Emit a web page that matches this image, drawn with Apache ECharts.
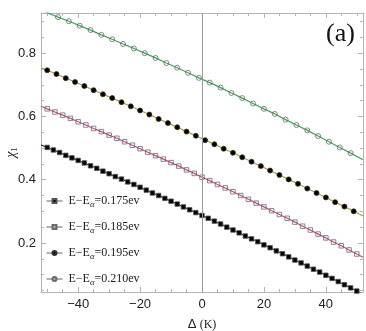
<!DOCTYPE html>
<html>
<head>
<meta charset="utf-8">
<script src="https://cdn.jsdelivr.net/npm/echarts@6/dist/echarts.min.js"></script>
<style>
  html, body { margin: 0; padding: 0; background: #fff; }
  #main { width: 366px; height: 331px; }
</style>
</head>
<body>
<div id="main"></div>
<script>
// sample positions (Delta, K) and chi_1 values
var x175 = [-50,-48,-46,-44,-42,-40,-38,-36,-34,-32,-30,-28,-26,-24,-22,-20,-18,-16,-14,-12,-10,-8,-6,-4,-2,
  0,2,4,6,8,10,12,14,16,18,20,22,24,26,28,30,32,34,36,38,40,42,44,46,48,50];
var chi175 = [0.502,0.494,0.486,0.477,0.469,0.461,0.453,0.444,0.436,0.427,0.419,0.410,0.402,0.393,0.385,0.376,0.367,0.358,0.350,0.341,0.332,0.323,0.314,0.305,0.296,
  0.287,0.278,0.269,0.260,0.250,0.241,0.232,0.222,0.213,0.204,0.194,0.185,0.175,0.166,0.156,0.146,0.137,0.127,0.117,0.108,0.098,0.088,0.078,0.068,0.058,0.048];

var x185 = [-50,-47.5,-45,-42.5,-40,-37.5,-35,-32.5,-30,-27.5,-25,-22.5,-20,-17.5,-15,-12.5,-10,-7.5,-5,-2.5,
  0,2.5,5,7.5,10,12.5,15,17.5,20,22.5,25,27.5,30,32.5,35,37.5,40,42.5,45,47.5,50];
var chi185 = [0.624,0.614,0.604,0.594,0.583,0.573,0.562,0.552,0.541,0.531,0.520,0.509,0.498,0.487,0.476,0.465,0.454,0.443,0.431,0.420,
  0.408,0.397,0.385,0.374,0.362,0.350,0.338,0.326,0.314,0.302,0.290,0.278,0.266,0.253,0.241,0.228,0.216,0.203,0.191,0.178,0.165];

var x195 = [-50,-47,-44,-41,-38,-35,-32,-29,-26,-23,-20,-17,-14,-11,-8,-5,-2,
  1,4,7,10,13,16,19,22,25,28,31,34,37,40,43,46,49];
var chi195 = [0.746,0.734,0.721,0.709,0.696,0.683,0.670,0.658,0.645,0.632,0.619,0.606,0.592,0.579,0.566,0.552,0.539,
  0.525,0.512,0.498,0.485,0.471,0.457,0.443,0.429,0.415,0.401,0.387,0.372,0.358,0.344,0.329,0.315,0.300];

var x210 = [-50,-46.5,-43,-39.5,-36,-32.5,-29,-25.5,-22,-18.5,-15,-11.5,-8,-4.5,-1,
  2.5,6,9.5,13,16.5,20,23.5,27,30.5,34,37.5,41,44.5,48];
var chi210 = [0.928,0.914,0.901,0.887,0.873,0.858,0.844,0.829,0.815,0.800,0.785,0.769,0.754,0.738,0.722,
  0.707,0.691,0.674,0.658,0.641,0.624,0.608,0.590,0.573,0.556,0.538,0.520,0.502,0.484];

// the fitted curves run to the frame edges
var endX = [-52, 52];
var end175 = [0.510, 0.038];
var end185 = [0.632, 0.155];
var end195 = [0.754, 0.285];
var end210 = [0.936, 0.463];

var energies = ['0.175', '0.185', '0.195', '0.210'];

var xMajor = [-40, -20, 0, 20, 40];
var xMinor = [-50,-45,-40,-35,-30,-25,-20,-15,-10,-5,0,5,10,15,20,25,30,35,40,45,50];
var yMajor = [0.2, 0.4, 0.6, 0.8];
var yMinor = [0.05,0.1,0.15,0.2,0.25,0.3,0.35,0.4,0.45,0.5,0.55,0.6,0.65,0.7,0.75,0.8,0.85,0.9];

var xMin = -52, xMax = 52, yMin = 0.045, yMax = 0.927;
var frameColor = '#b4b4b4';

function zip(xs, ys) {
  return xs.map(function (x, i) { return [x, ys[i]]; });
}
function curve(xs, ys, ends) {
  return [[endX[0], ends[0]]].concat(zip(xs, ys)).concat([[endX[1], ends[1]]]);
}

function xAx(pos, ticks, len, main) {
  return {
    type: 'value', position: pos, min: xMin, max: xMax,
    axisLine: { show: main, onZero: false, lineStyle: { color: frameColor, width: 1 } },
    axisTick: { show: true, inside: true, length: len, customValues: ticks, lineStyle: { color: frameColor } },
    axisLabel: {
      show: main && pos === 'bottom', customValues: xMajor, margin: 6,
      color: '#222', fontFamily: 'Liberation Sans', fontSize: 13,
      formatter: function (v) { return String(v).replace('-', '\u2212'); }
    },
    splitLine: { show: false }
  };
}
function yAx(pos, ticks, len, main) {
  return {
    type: 'value', position: pos, min: yMin, max: yMax,
    axisLine: { show: main, onZero: false, lineStyle: { color: frameColor, width: 1 } },
    axisTick: { show: true, inside: true, length: len, customValues: ticks, lineStyle: { color: frameColor } },
    axisLabel: {
      show: main && pos === 'left', customValues: yMajor, margin: 5,
      color: '#222', fontFamily: 'Liberation Sans', fontSize: 13,
      formatter: function (v) { return v.toFixed(1); }
    },
    splitLine: { show: false }
  };
}

var xAxes = [xAx('bottom', xMinor, 3, true), xAx('bottom', xMajor, 5, false),
             xAx('top', xMinor, 3, true), xAx('top', xMajor, 5, false)];
xAxes[0].name = '{d|\u0394} {k|(K)}';
xAxes[0].nameLocation = 'middle';
xAxes[0].nameGap = 26;
xAxes[0].nameMoveOverlap = false;
xAxes[0].nameTextStyle = {
  rich: {
    d: { fontFamily: 'Liberation Sans', fontSize: 13, color: '#222' },
    k: { fontFamily: 'Liberation Serif', fontSize: 12, color: '#222' }
  }
};

var yAxes = [yAx('left', yMinor, 3, true), yAx('left', yMajor, 5, false),
             yAx('right', yMinor, 3, true), yAx('right', yMajor, 5, false)];
yAxes[0].name = '{c|\u03c7}{s|1}';
yAxes[0].nameLocation = 'middle';
yAxes[0].nameRotate = 90;
yAxes[0].nameGap = 30;
yAxes[0].nameMoveOverlap = false;
yAxes[0].nameTextStyle = {
  align: 'center', verticalAlign: 'middle',
  rich: {
    c: { fontFamily: 'Liberation Serif', fontSize: 14, fontStyle: 'italic', color: '#222', lineHeight: 16, verticalAlign: 'middle' },
    s: { fontFamily: 'Liberation Serif', fontSize: 9, color: '#222', lineHeight: 9, verticalAlign: 'bottom' }
  }
};

var names = energies.map(function (e) { return 'E\u2212E\u03b1=' + e + 'ev'; });

function markerSeries(name, data, symbol, size, fill, border) {
  return {
    name: name, type: 'line', data: data, xAxisIndex: 0, yAxisIndex: 0,
    symbol: symbol, symbolSize: size, showSymbol: true,
    lineStyle: { width: 0 },
    itemStyle: { color: fill, borderColor: border, borderWidth: 0.8 },
    z: 4, silent: true, animation: false
  };
}
function lineSeries(data, color) {
  return {
    type: 'line', data: data, xAxisIndex: 0, yAxisIndex: 0,
    showSymbol: false, symbol: 'none',
    lineStyle: { color: color, width: 1.2 },
    z: 3, silent: true, animation: false
  };
}

var series = [
  lineSeries(curve(x175, chi175, end175), '#28346e'),
  lineSeries(curve(x185, chi185, end185), '#c24a8e'),
  lineSeries(curve(x195, chi195, end195), '#b59b3e'),
  lineSeries(curve(x210, chi210, end210), '#3ea556'),
  markerSeries(names[0], zip(x175, chi175), 'rect', 4.5, '#000', '#555'),
  markerSeries(names[1], zip(x185, chi185), 'rect', 4.5, 'rgba(255,255,255,0)', '#6a6a6a'),
  markerSeries(names[2], zip(x195, chi195), 'circle', 5, '#000', '#333'),
  markerSeries(names[3], zip(x210, chi210), 'circle', 5, 'rgba(255,255,255,0)', '#6a6a6a')
];

// vertical line at Delta = 0
series[0].markLine = {
  silent: true, symbol: 'none', animation: false,
  label: { show: false },
  lineStyle: { color: '#9a9a9a', width: 1, type: 'solid' },
  data: [{ xAxis: 0 }]
};

var chart = echarts.init(document.getElementById('main'), null, { renderer: 'canvas' });
chart.setOption({
  animation: false,
  backgroundColor: '#fff',
  grid: { left: 41, right: 3, top: 13, bottom: 39, containLabel: false, outerBoundsMode: 'none' },
  xAxis: xAxes,
  yAxis: yAxes,
  legend: {
    orient: 'vertical', left: 46, top: 195, padding: 0,
    itemWidth: 16, itemHeight: 5, itemGap: 12,
    data: names,
    lineStyle: { width: 1, color: '#666', opacity: 1 },
    textStyle: {
      color: '#222', padding: [0, 0, 0, 1],
      rich: {
        n: { fontFamily: 'Liberation Serif', fontSize: 12, lineHeight: 16, color: '#222' },
        s: { fontFamily: 'Liberation Serif', fontSize: 8.5, fontStyle: 'italic', lineHeight: 9, verticalAlign: 'bottom', color: '#222' }
      }
    },
    formatter: function (name) {
      var p = name.split('\u03b1');
      return '{n|' + p[0] + '}{s|\u03b1}{n|' + p[1] + '}';
    }
  },
  graphic: [{
    type: 'text', left: 326, top: 21,
    style: { text: '(a)', font: '26px "Liberation Serif"', fill: '#111' }
  }],
  series: series
});
</script>
</body>
</html>
